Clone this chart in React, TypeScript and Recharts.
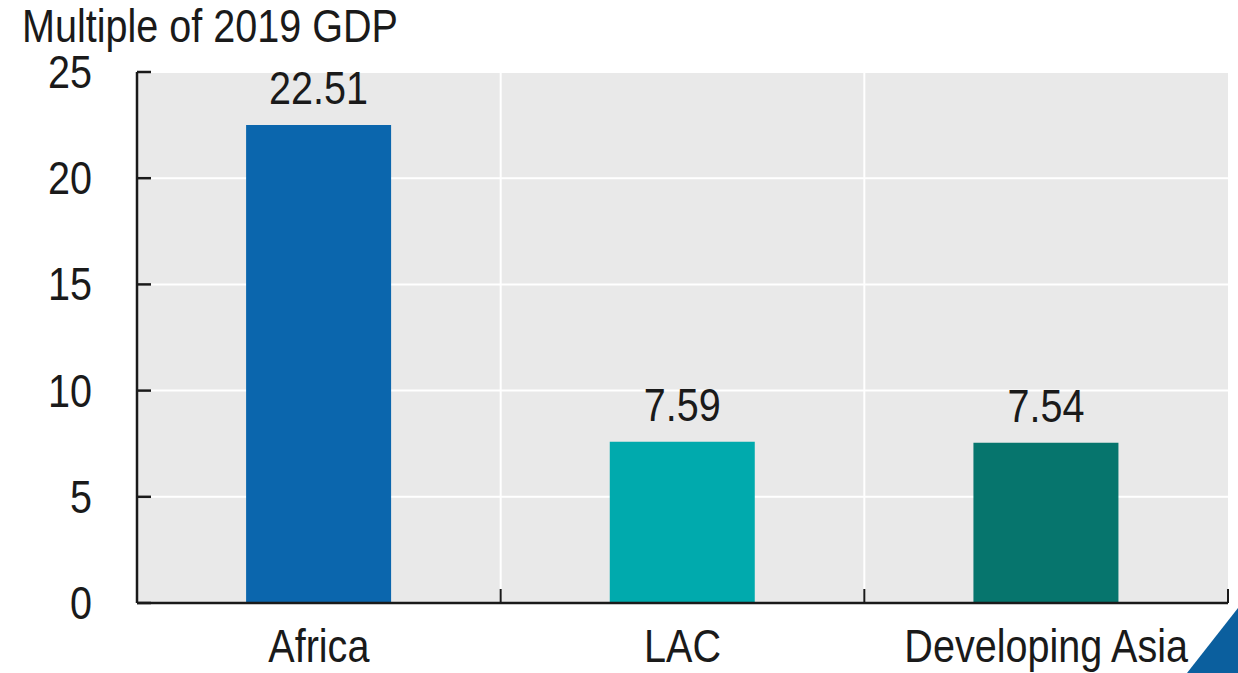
import React from 'react';
import { BarChart, Bar, XAxis, YAxis, CartesianGrid, Cell, LabelList } from 'recharts';

const regions = ['Africa', 'LAC', 'Developing Asia'];
const multiples = [22.51, 7.59, 7.54];
const barColors = ['#0b66ad', '#00aaad', '#06756d'];
const yTicks = [0, 5, 10, 15, 20, 25];

const data = regions.map((region, i) => ({ region, value: multiples[i] }));

const FONT = '"Liberation Sans", Arial, sans-serif';
const FS = 46;
const SQUEEZE = 0.86; // narrow look
const INK = '#1a1a1a';

const W = 1238;
const H = 673;
const MARGIN = { top: 72, right: 10, bottom: 0, left: 0 };
const Y_W = 137;
const X_H = 70;
const TICK_LEN = 14;
const BAND = (W - MARGIN.left - MARGIN.right - Y_W) / regions.length;

const NarrowText = ({ x, y, anchor, children }: any) => (
  <text
    transform={`translate(${x},${y}) scale(${SQUEEZE},1)`}
    textAnchor={anchor}
    fill={INK}
    fontSize={FS}
    fontFamily={FONT}
  >
    {children}
  </text>
);

const XTick = ({ x, y, payload, index }: any) => (
  <g>
    <NarrowText x={x} y={y + 59} anchor="middle">{payload.value}</NarrowText>
    {index > 0 && (
      <line x1={x - BAND / 2} x2={x - BAND / 2} y1={y} y2={y - TICK_LEN} stroke={INK} strokeWidth={2} />
    )}
    {index === regions.length - 1 && (
      <line x1={x + BAND / 2} x2={x + BAND / 2} y1={y} y2={y - TICK_LEN} stroke={INK} strokeWidth={2} />
    )}
  </g>
);

const YTick = ({ x, y, payload }: any) => (
  <g>
    <NarrowText x={x} y={y + 16} anchor="end">{payload.value}</NarrowText>
    <line x1={x + 45} x2={x + 45 + TICK_LEN} y1={y} y2={y} stroke={INK} strokeWidth={2.5} />
  </g>
);

const ValueLabel = ({ x, y, width, value }: any) => (
  <NarrowText x={x + width / 2} y={y - 21} anchor="middle">{value}</NarrowText>
);

export default function App() {
  return (
    <div style={{ position: 'absolute', left: 0, top: 0, width: W, height: H, background: '#fff' }}>
      <BarChart width={W} height={H} data={data} margin={MARGIN} barCategoryGap="30%">
        <CartesianGrid
          fill="#e9e9e9"
          stroke="#ffffff"
          strokeWidth={2}
          verticalCoordinatesGenerator={({ offset }: any) =>
            regions.slice(1).map((_, i) => offset.left + (offset.width * (i + 1)) / regions.length)
          }
        />
        <XAxis
          dataKey="region"
          type="category"
          axisLine={{ stroke: INK, strokeWidth: 2.5 }}
          tickLine={false}
          tickSize={0}
          tickMargin={0}
          height={X_H}
          interval={0}
          tick={<XTick />}
        />
        <YAxis
          type="number"
          domain={[0, 25]}
          ticks={yTicks}
          width={Y_W}
          axisLine={{ stroke: INK, strokeWidth: 2.5 }}
          tickLine={false}
          tickSize={0}
          tickMargin={45}
          interval={0}
          tick={<YTick />}
        />
        <Bar dataKey="value" isAnimationActive={false}>
          {data.map((d, i) => (
            <Cell key={d.region} fill={barColors[i]} />
          ))}
          <LabelList dataKey="value" content={<ValueLabel />} />
        </Bar>
      </BarChart>
      <svg style={{ position: 'absolute', left: 0, top: 0 }} width={W} height={H}>
        <NarrowText x={22} y={42} anchor="start">Multiple of 2019 GDP</NarrowText>
        <polygon points="1187,673 1238,673 1238,608" fill="#0b5f9e" />
      </svg>
    </div>
  );
}
